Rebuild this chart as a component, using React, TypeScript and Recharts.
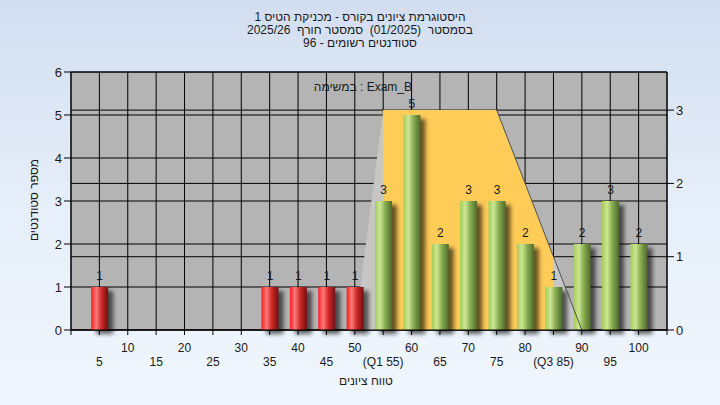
import React from 'react';
import { ComposedChart, Bar, Area, Line, XAxis, YAxis, CartesianGrid } from 'recharts';

// histogram: score bucket -> number of students
const SCORES = [5, 10, 15, 20, 25, 30, 35, 40, 45, 50, 55, 60, 65, 70, 75, 80, 85, 90, 95, 100];
const COUNTS = [1, 0, 0, 0, 0, 0, 1, 1, 1, 1, 3, 5, 2, 3, 3, 2, 1, 2, 3, 2];

const TICK_VALUES = [0, 5, 10, 15, 20, 25, 30, 35, 40, 45, 50, 55, 60, 65, 70, 75, 80, 85, 90, 95, 100, 105];
const TICK_LABELS = ['', '5', '10', '15', '20', '25', '30', '35', '40', '45', '50', '(Q1 55)', '60', '65', '70', '75', '80', '(Q3 85)', '90', '95', '100', ''];

// spread shape on the right axis
const SPREAD_X = [50, 55, 75, 90];
const SPREAD_Y = [0, 3, 3, 0];
const IQR_X = [55, 75, 85];
const IQR_Y = [3, 3, 1];
const SLOPE_X = [75, 90];
const SLOPE_Y = [3, 0];

const TITLE_LINES = [
  'היסטוגרמת ציונים בקורס - מכניקת הטיס 1',
  'בסמסטר  (01/2025)  סמסטר חורף  2025/26',
  'סטודנטים רשומים - 96',
];
const TASK_LABEL = 'במשימה : Exam_B';
const X_TITLE = 'טווח ציונים';
const Y_TITLE = 'מספר סטודנטים';

const PASS_SCORE = 55;
const FONT = "'Liberation Sans', 'DejaVu Sans', sans-serif";
const NARROW = "'Liberation Sans Narrow', 'Liberation Sans', 'DejaVu Sans', sans-serif";

const barData = SCORES.map((s, i) => ({ score: s, count: COUNTS[i] }));
const spreadData = SPREAD_X.map((s, i) => ({ score: s, level: SPREAD_Y[i] }));
const iqrData = IQR_X.map((s, i) => ({ score: s, level: IQR_Y[i] }));
const slopeData = SLOPE_X.map((s, i) => ({ score: s, level: SLOPE_Y[i] }));

const CylinderBar = (props: any) => {
  const { x, y, width, height, payload } = props;
  if (!height || height <= 0) return null;
  const fail = payload.score < PASS_SCORE;
  return (
    <g>
      <rect x={x + 5} y={y + 4} width={width} height={height} fill="#000" opacity={0.6} filter="url(#barShadow)" />
      <rect x={x} y={y} width={width} height={height} fill={fail ? 'url(#redCyl)' : 'url(#greenCyl)'} />
    </g>
  );
};

const CountLabel = (props: any) => {
  const { x, y, width, value } = props;
  if (!value) return null;
  return (
    <text x={x + width / 2} y={y - 7} textAnchor="middle" fontSize={12} fontFamily={FONT} fill="#1a1a1a">
      {value}
    </text>
  );
};

const ScoreTick = (props: any) => {
  const { x, y, payload } = props;
  const i = TICK_VALUES.indexOf(payload.value);
  const label = TICK_LABELS[i];
  if (!label) return null;
  const lower = i % 2 === 1;
  return (
    <text x={x} y={y + (lower ? 29 : 15)} textAnchor="middle" fontSize={12} fontFamily={NARROW} fill="#1a1a1a">
      {label}
    </text>
  );
};

export default function App() {
  return (
    <div
      style={{
        position: 'fixed',
        left: 0,
        top: 0,
        width: 720,
        height: 405,
        background: 'linear-gradient(to bottom, #d2def0 0%, #e5eef9 50%, #f0f6fd 100%)',
      }}
    >
      <ComposedChart width={720} height={405} data={barData} margin={{ top: 72, right: 0, bottom: 0, left: 0 }}>
        <defs>
          <linearGradient id="redCyl" x1="0" y1="0" x2="1" y2="0">
            <stop offset="0%" stopColor="#ff1c1c" />
            <stop offset="30%" stopColor="#ff7a7a" />
            <stop offset="60%" stopColor="#d02828" />
            <stop offset="100%" stopColor="#701010" />
          </linearGradient>
          <linearGradient id="greenCyl" x1="0" y1="0" x2="1" y2="0">
            <stop offset="0%" stopColor="#a4cc58" />
            <stop offset="30%" stopColor="#cce694" />
            <stop offset="60%" stopColor="#88ac50" />
            <stop offset="100%" stopColor="#4e6a2c" />
          </linearGradient>
          <filter id="barShadow" x="-50%" y="-10%" width="200%" height="130%">
            <feGaussianBlur stdDeviation="2" />
          </filter>
        </defs>
        <CartesianGrid yAxisId="left" stroke="#000" fill="#b4b4b4" fillOpacity={1} />
        <CartesianGrid yAxisId="right" stroke="#000" vertical={false} />
        <XAxis
          dataKey="score"
          type="number"
          domain={[0, 105]}
          ticks={TICK_VALUES}
          interval={0}
          height={75}
          stroke="#000"
          tickSize={5}
          tickMargin={2}
          tick={<ScoreTick />}
        />
        <YAxis
          yAxisId="left"
          domain={[0, 6]}
          ticks={[0, 1, 2, 3, 4, 5, 6]}
          width={71}
          stroke="#000"
          tickSize={7}
          tickMargin={2}
          tick={{ fontSize: 13, fontFamily: FONT, fill: '#1a1a1a' }}
        />
        <YAxis
          yAxisId="right"
          orientation="right"
          domain={[0, 3.52]}
          ticks={[0, 1, 2, 3]}
          allowDataOverflow
          width={53}
          stroke="#000"
          tickSize={7}
          tickMargin={2}
          tick={{ fontSize: 13, fontFamily: FONT, fill: '#1a1a1a' }}
        />
        <Area
          yAxisId="right"
          data={spreadData}
          dataKey="level"
          type="linear"
          stroke="none"
          fill="#c6c6c6"
          fillOpacity={1}
          dot={false}
          activeDot={false}
          isAnimationActive={false}
        />
        <Area
          yAxisId="right"
          data={iqrData}
          dataKey="level"
          type="linear"
          stroke="none"
          fill="#ffcc58"
          fillOpacity={1}
          dot={false}
          activeDot={false}
          isAnimationActive={false}
        />
        <Line
          yAxisId="right"
          data={slopeData}
          dataKey="level"
          type="linear"
          stroke="#505050"
          strokeWidth={1}
          dot={false}
          activeDot={false}
          isAnimationActive={false}
        />
        <Bar
          yAxisId="left"
          dataKey="count"
          barSize={17}
          shape={<CylinderBar />}
          label={<CountLabel />}
          isAnimationActive={false}
        />
      </ComposedChart>
      <svg width={720} height={405} style={{ position: 'absolute', left: 0, top: 0, pointerEvents: 'none' }}>
        {TITLE_LINES.map((t, i) => (
          <text
            key={i}
            x={360}
            y={21 + i * 13}
            textAnchor="middle"
            fontSize={12}
            fontFamily={FONT}
            fill="#1a1a1a"
            style={{ whiteSpace: 'pre' }}
          >
            {t}
          </text>
        ))}
        <text x={412} y={91} textAnchor="end" fontSize={12} fontFamily={FONT} fill="#1a1a1a">
          {TASK_LABEL}
        </text>
        <text x={366} y={385} textAnchor="middle" fontSize={12} fontFamily={NARROW} fill="#1a1a1a">
          {X_TITLE}
        </text>
        <text
          x={38}
          y={200}
          textAnchor="middle"
          fontSize={12}
          fontFamily={FONT}
          fill="#1a1a1a"
          transform="rotate(-90 38 200)"
        >
          {Y_TITLE}
        </text>
      </svg>
    </div>
  );
}
